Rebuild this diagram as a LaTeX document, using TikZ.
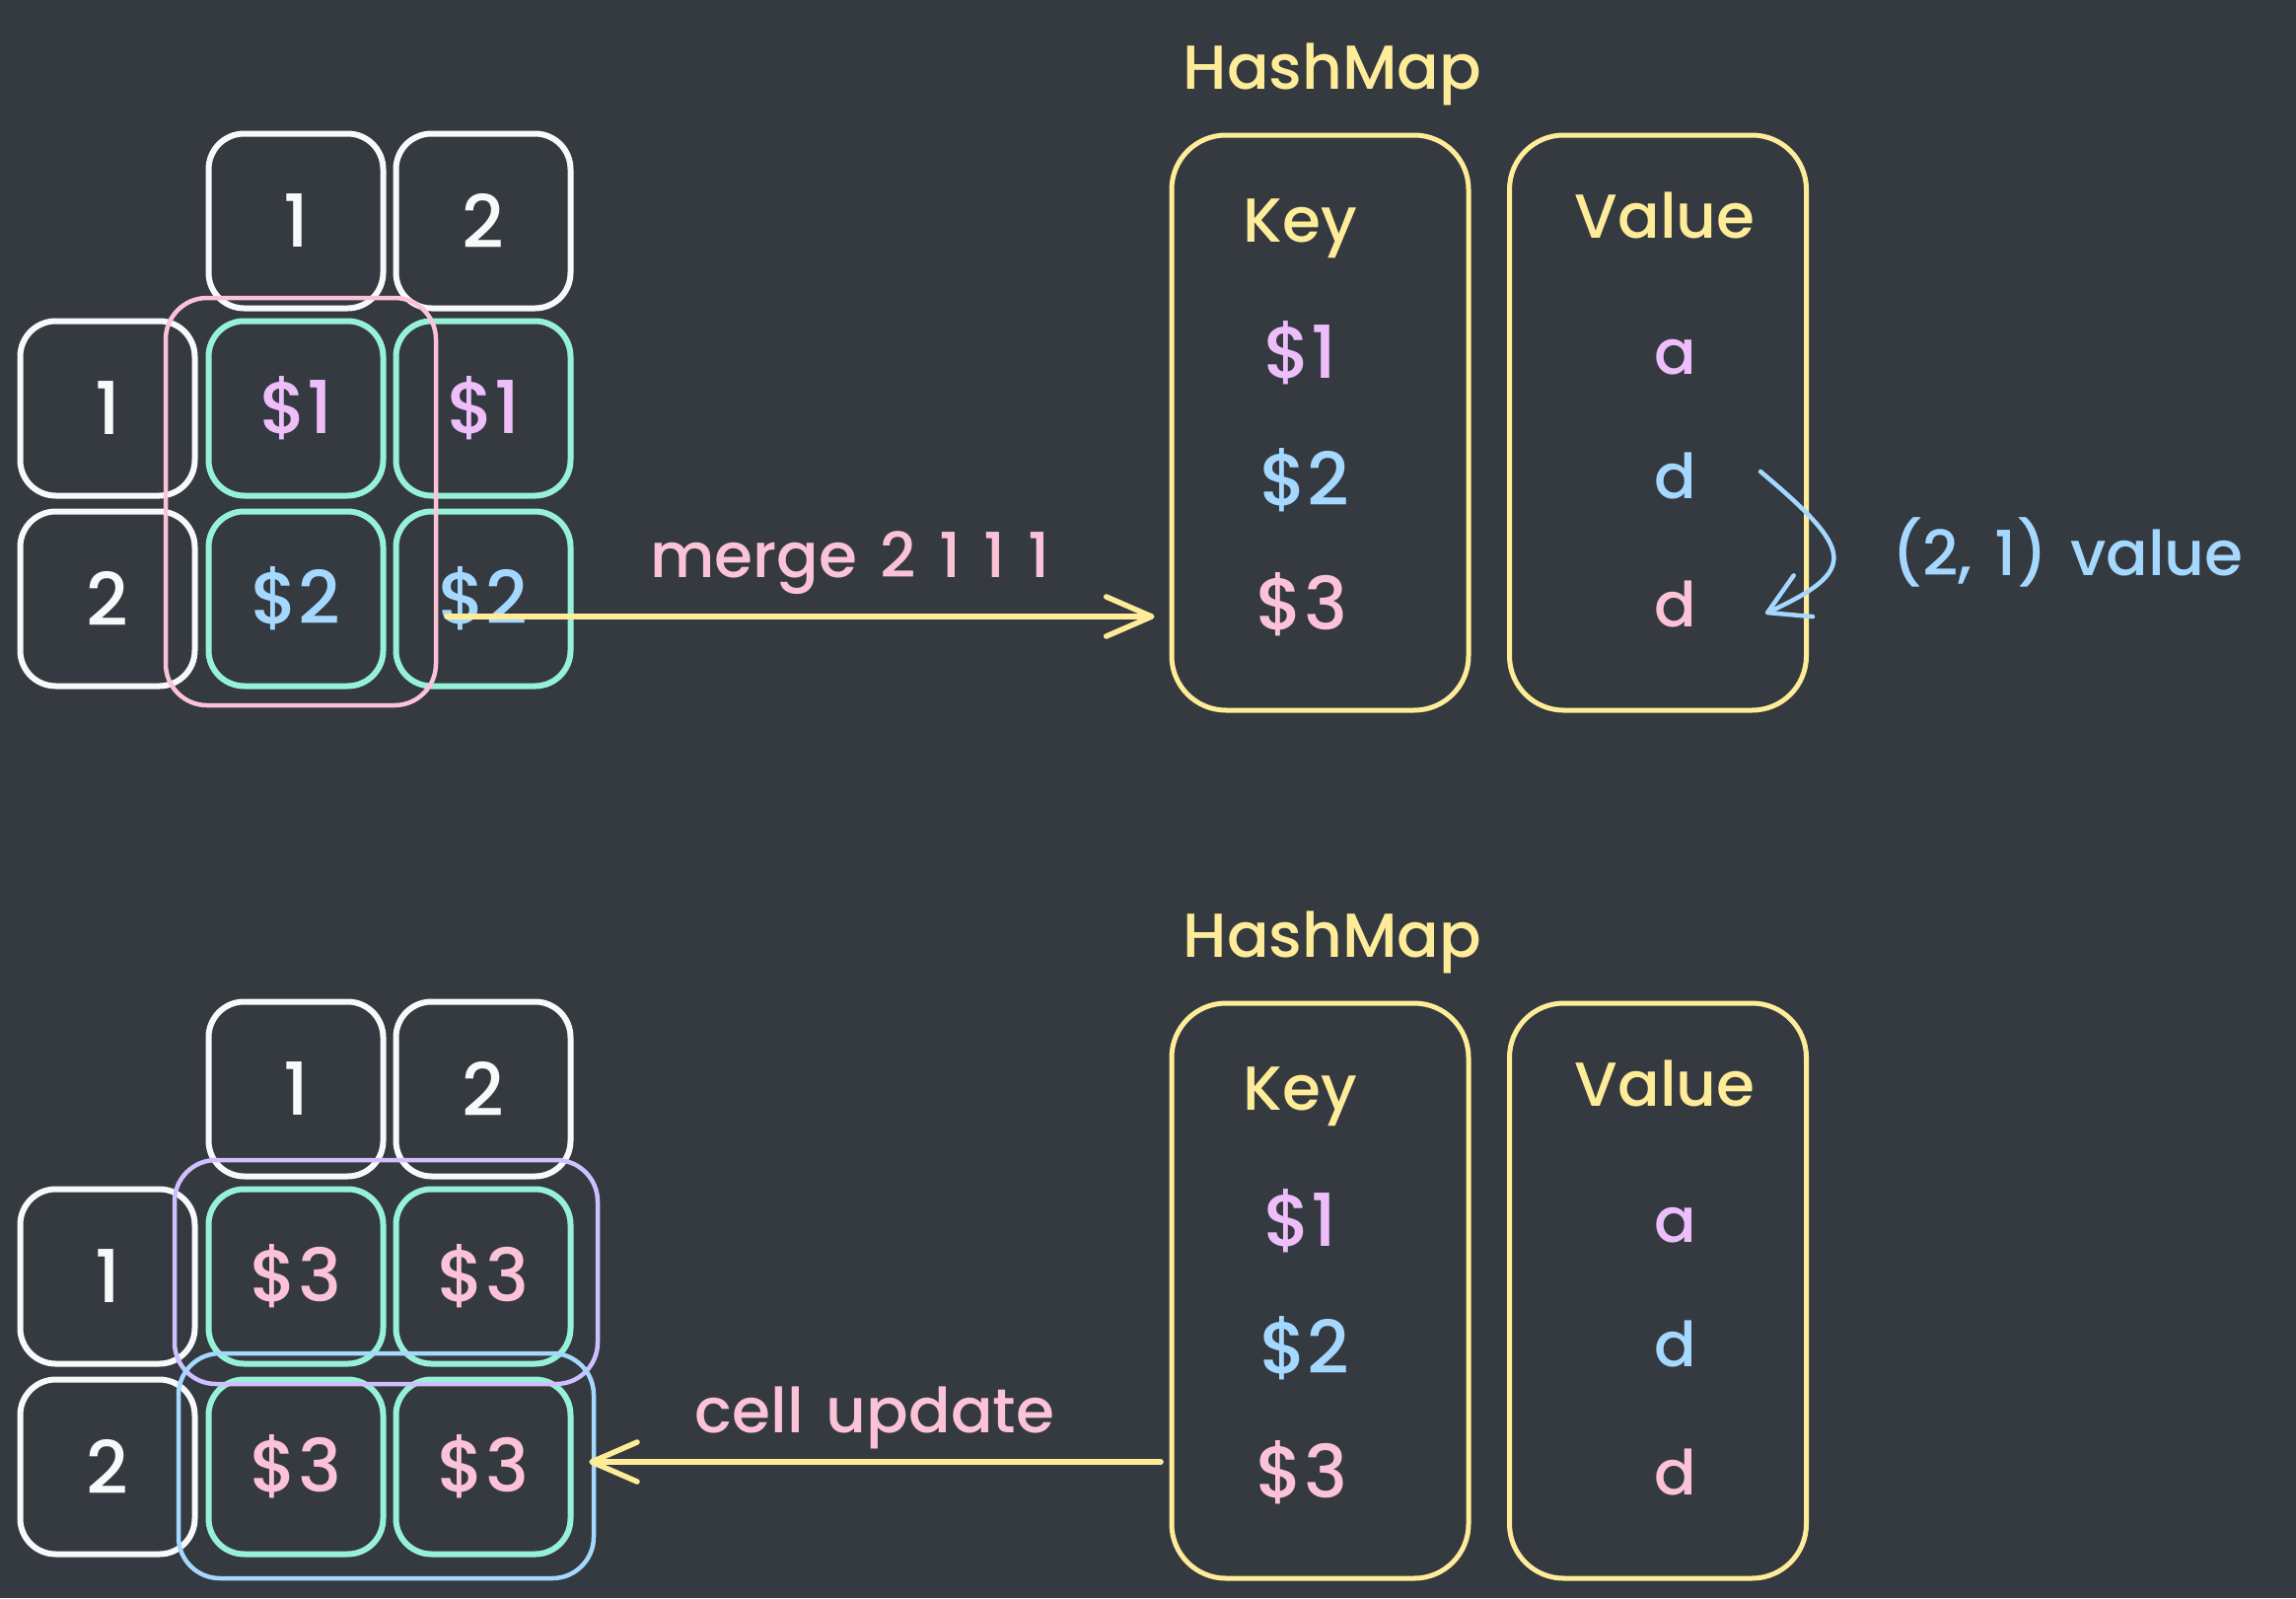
\documentclass[tikz,border=0pt]{standalone}
\usepackage{fontspec}
\setmainfont{Poppins}[UprightFont={* Medium}]
\usetikzlibrary{arrows.meta,calc}
\definecolor{bg}{HTML}{343A40}
\definecolor{cwhite}{HTML}{F8F9FA}
\definecolor{cgreen}{HTML}{96F2D7}
\definecolor{cpink}{HTML}{FCC2D7}
\definecolor{cgrape}{HTML}{EEBEFA}
\definecolor{cblue}{HTML}{A5D8FF}
\definecolor{cviolet}{HTML}{D0BFFF}
\definecolor{cyellow}{HTML}{FFEC99}
\newcommand\widespaces{\spaceskip=0.37em plus 0.1em\relax}
\begin{document}
\begin{tikzpicture}[x=1pt,y=-1pt,
  bigfont/.style={font=\fontsize{63}{70}\selectfont},
  cellfont/.style={font=\fontsize{74}{80}\selectfont},
  cell/.style={draw, rounded corners=36pt, minimum width=177pt, minimum height=177pt,
    line width=6pt, inner sep=0pt, cellfont},
  hdr/.style={cell, draw=cwhite, text=cwhite},
  val/.style={cell, draw=cgreen},
  grp/.style={draw, rounded corners=42pt, inner sep=0pt, line width=4.5pt},
  mapbox/.style={draw=cyellow, rounded corners=55pt, inner sep=0pt, line width=5pt,
    minimum width=301pt, minimum height=583pt},
  txt/.style={anchor=base, inner sep=0pt, bigfont, execute at begin node=\widespaces},
  ktxt/.style={anchor=base, inner sep=0pt, cellfont},
  yarrow/.style={draw=cyellow, line width=5.5pt, line cap=round,
    -{Straight Barb[length=46pt,width=40pt,round]}},
  barrow/.style={draw=cblue, line width=4.5pt, line cap=round,
    -{Straight Barb[length=40pt,width=46pt,round]}}
]
\fill[bg] (0,0) rectangle (2328,1620);
\useasboundingbox (0,0) rectangle (2328,1620);

% ---------- top grid ----------
\node[hdr] (th1) at (300,224) {1};
\node[hdr] (th2) at (490,224) {2};
\node[hdr] (tr1) at (109,414) {1};
\node[hdr] (tr2) at (109,607) {2};
\node[val, text=cgrape] (t11) at (300,414) {\$1};
\node[val, text=cgrape] (t12) at (490,414) {\$1};
\node[val, text=cblue] (t21) at (300,607) {\$2};
\node[val, text=cblue] (t22) at (490,607) {\$2};
\node[grp, draw=cpink, minimum width=274pt, minimum height=413pt] (tpink) at (305,508.5) {};

% ---------- top hashmap ----------
\node[txt, text=cyellow] (thash) at (1351,90) {HashMap};
\node[mapbox] (tkey) at (1338.5,428.5) {};
\node[mapbox] (tval) at (1681,428.5) {};
\node[txt, text=cyellow] (tkeyl) at (1318,245) {Key};
\node[txt, text=cyellow] (tvall) at (1688,241) {Value};
\node[ktxt, text=cgrape] (tk1) at (1318,383) {\$1};
\node[ktxt, text=cblue] (tk2) at (1323,512) {\$2};
\node[ktxt, text=cpink] (tk3) at (1320,638) {\$3};
\node[txt, text=cgrape] (tv1) at (1699,379) {a};
\node[txt, text=cblue] (tv2) at (1699,505) {d};
\node[txt, text=cpink] (tv3) at (1699,635) {d};

% merge arrow
\coordinate (ms) at (453,625);
\draw[yarrow] (ms) -- ($(tkey.west |- ms)+(-15,0)$);
\node[txt, text=cpink] (mlabel) at (862,585) {merge 2 1 1 1};

% curved value arrow
\coordinate (cs) at (1785,478);
\coordinate (ce) at (1790,622);
\draw[barrow] (cs) .. controls (1880,558) and (1885,578) .. (ce);
\node[txt, anchor=base west, text=cblue] (vlabel) at (1918,583) {(2, 1) value};

% ---------- bottom grid ----------
\node[hdr] (bh1) at (300,1104) {1};
\node[hdr] (bh2) at (490,1104) {2};
\node[hdr] (br1) at (109,1294) {1};
\node[hdr] (br2) at (109,1487) {2};
\node[val, text=cpink] (b11) at (300,1294) {\$3};
\node[val, text=cpink] (b12) at (490,1294) {\$3};
\node[val, text=cpink] (b21) at (300,1487) {\$3};
\node[val, text=cpink] (b22) at (490,1487) {\$3};
\node[grp, draw=cviolet, minimum width=429pt, minimum height=227pt] (bviolet) at (391.5,1289.5) {};
\node[grp, draw=cblue, minimum width=421pt, minimum height=228pt] (bblue) at (391.5,1486) {};

% ---------- bottom hashmap ----------
\node[txt, text=cyellow] (bhash) at (1351,970) {HashMap};
\node[mapbox] (bkey) at (1338.5,1308.5) {};
\node[mapbox] (bval) at (1681,1308.5) {};
\node[txt, text=cyellow] (bkeyl) at (1318,1125) {Key};
\node[txt, text=cyellow] (bvall) at (1688,1121) {Value};
\node[ktxt, text=cgrape] (bk1) at (1318,1263) {\$1};
\node[ktxt, text=cblue] (bk2) at (1323,1392) {\$2};
\node[ktxt, text=cpink] (bk3) at (1320,1518) {\$3};
\node[txt, text=cgrape] (bv1) at (1699,1259) {a};
\node[txt, text=cblue] (bv2) at (1699,1385) {d};
\node[txt, text=cpink] (bv3) at (1699,1515) {d};

% cell update arrow
\coordinate (cu) at (1177,1482);
\draw[yarrow] (cu) -- ($(bblue.east |- cu)+(-7,0)$);
\node[txt, text=cpink] (ulabel) at (887,1452) {cell update};
\end{tikzpicture}
\end{document}
